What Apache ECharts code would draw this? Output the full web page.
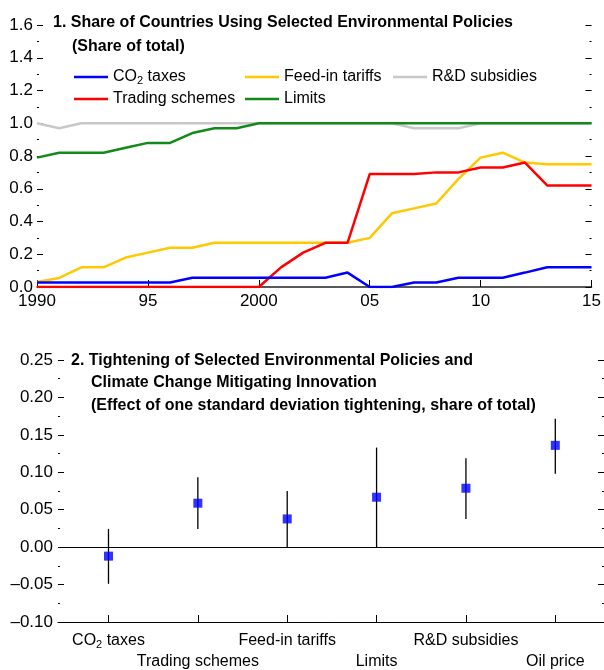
<!DOCTYPE html>
<html>
<head>
<meta charset="utf-8">
<script src="https://cdn.jsdelivr.net/npm/echarts@6/dist/echarts.min.js"></script>
<style>
  html, body { margin: 0; padding: 0; background: #fff; }
  #chart { width: 604px; height: 670px; }
</style>
</head>
<body>
<div id="chart"></div>
<script>
// Panel 1: share of countries using each policy, 1990–2015
const years = [1990, 1991, 1992, 1993, 1994, 1995, 1996, 1997, 1998, 1999, 2000, 2001, 2002,
               2003, 2004, 2005, 2006, 2007, 2008, 2009, 2010, 2011, 2012, 2013, 2014, 2015];
const co2Taxes = [0.027, 0.027, 0.027, 0.027, 0.027, 0.027, 0.027, 0.057, 0.057, 0.057, 0.057, 0.057, 0.057,
                  0.057, 0.088, 0.0, 0.0, 0.027, 0.027, 0.057, 0.057, 0.057, 0.088, 0.121, 0.121, 0.121];
const tradingSchemes = [0, 0, 0, 0, 0, 0, 0, 0, 0, 0, 0, 0.12, 0.21,
                        0.27, 0.27, 0.69, 0.69, 0.69, 0.70, 0.70, 0.73, 0.73, 0.76, 0.62, 0.62, 0.62];
const feedInTariffs = [0.03, 0.055, 0.12, 0.12, 0.18, 0.21, 0.24, 0.24, 0.27, 0.27, 0.27, 0.27, 0.27,
                       0.27, 0.27, 0.30, 0.45, 0.48, 0.51, 0.66, 0.79, 0.82, 0.76, 0.75, 0.75, 0.75];
const rdSubsidies = [1.0, 0.97, 1.0, 1.0, 1.0, 1.0, 1.0, 1.0, 1.0, 1.0, 1.0, 1.0, 1.0,
                     1.0, 1.0, 1.0, 1.0, 0.97, 0.97, 0.97, 1.0, 1.0, 1.0, 1.0, 1.0, 1.0];
const limits = [0.79, 0.82, 0.82, 0.82, 0.85, 0.88, 0.88, 0.94, 0.97, 0.97, 1.0, 1.0, 1.0,
                1.0, 1.0, 1.0, 1.0, 1.0, 1.0, 1.0, 1.0, 1.0, 1.0, 1.0, 1.0, 1.0];

// Panel 2: effect of one standard deviation tightening, with confidence bands
const policies = ['CO2 taxes', 'Trading schemes', 'Feed-in tariffs', 'Limits', 'R&D subsidies', 'Oil price'];
const effect = [-0.012, 0.0587, 0.0377, 0.0667, 0.0787, 0.136];
const bandLow = [-0.049, 0.0244, 0.0, 0.0, 0.0377, 0.098];
const bandHigh = [0.0244, 0.0933, 0.075, 0.133, 0.1187, 0.1715];

const FONT = "'Liberation Sans', Arial, sans-serif";
const BLACK = '#000';

const chart = echarts.init(document.getElementById('chart'), null, { renderer: 'canvas' });

const pair = arr => years.map((y, i) => [y, arr[i]]);
const policyIdx = policies.map((p, i) => i);
const evenIdx = policyIdx.filter(i => i % 2 === 0);
const oddIdx = policyIdx.filter(i => i % 2 === 1);

const subRich = {
  n: { fontFamily: FONT, fontSize: 16, color: BLACK, lineHeight: 18 },
  s: { fontFamily: FONT, fontSize: 11, color: BLACK, lineHeight: 11, verticalAlign: 'bottom' }
};
const withSub = name => name.indexOf('CO2') === 0 ? '{n|CO}{s|2}{n|' + name.slice(3) + '}' : '{n|' + name + '}';

function legendAt(left, names) {
  return {
    orient: 'vertical', left: left, top: 68, padding: 0,
    data: names, selectedMode: false,
    icon: 'rect', itemWidth: 34, itemHeight: 2.5, itemGap: 4,
    textStyle: { fontFamily: FONT, fontSize: 16, color: BLACK, lineHeight: 18, rich: subRich },
    formatter: withSub
  };
}

function lineSeries(name, data, color, z) {
  return {
    name: name, type: 'line', xAxisIndex: 0, yAxisIndex: 0,
    data: pair(data), showSymbol: false, symbol: 'none', z: z,
    lineStyle: { color: color, width: 2.5 }, itemStyle: { color: color }
  };
}

// Bold, slightly condensed heading line
function heading(x, y, text) {
  return {
    type: 'text', x: x, y: y, scaleX: 0.94,
    style: { text: text, fontFamily: FONT, fontSize: 17, fontWeight: 'bold', fill: BLACK, verticalAlign: 'middle' }
  };
}

// Policy name axis for panel 2 (two staggered label rows)
function policyAxis(labelIdx, margin, withLine) {
  return {
    gridIndex: 1, type: 'value', min: -0.565, max: 5.545, position: 'bottom',
    axisLine: { show: withLine, onZero: false, lineStyle: { color: BLACK, width: 1 } },
    axisTick: { show: withLine, inside: true, length: 7, customValues: policyIdx, lineStyle: { color: BLACK, width: 1 } },
    splitLine: { show: false },
    axisLabel: {
      customValues: labelIdx, margin: margin,
      showMinLabel: true, showMaxLabel: true,
      fontFamily: FONT, fontSize: 16, color: BLACK, rich: subRich,
      formatter: v => withSub(policies[Math.round(v)])
    }
  };
}

const yTickBase = {
  axisLine: { show: false, onZero: false },
  axisTick: { show: true, inside: true, length: 6, lineStyle: { color: BLACK, width: 1 } },
  minorTick: { show: true, splitNumber: 2, length: 2, lineStyle: { color: BLACK, width: 1 } },
  splitLine: { show: false }
};

const option = {
  animation: false,
  backgroundColor: '#fff',
  textStyle: { fontFamily: FONT },
  graphic: [
    heading(53, 22, '1. Share of Countries Using Selected Environmental Policies'),
    heading(72, 46, '(Share of total)'),
    heading(71, 360, '2. Tightening of Selected Environmental Policies and'),
    heading(91, 382.5, 'Climate Change Mitigating Innovation'),
    heading(91, 405, '(Effect of one standard deviation tightening, share of total)')
  ],
  legend: [
    legendAt(74, ['CO2 taxes', 'Trading schemes']),
    legendAt(245, ['Feed-in tariffs', 'Limits']),
    legendAt(393, ['R&D subsidies'])
  ],
  grid: [
    { left: 37, right: 9, top: 25, bottom: 383, containLabel: false },
    { left: 58, right: 0, top: 360, bottom: 47, containLabel: false }
  ],
  xAxis: [
    {
      gridIndex: 0, type: 'value', min: 1990, max: 2015, interval: 5,
      axisLine: { show: true, onZero: false, lineStyle: { color: '#222', width: 1.5 } },
      axisTick: { show: true, inside: true, length: 7, lineStyle: { color: BLACK, width: 1 } },
      splitLine: { show: false },
      axisLabel: {
        fontFamily: FONT, fontSize: 17, color: BLACK, margin: 6,
        formatter: v => (v === 1990 || v === 2000) ? String(v) : String(v % 100).padStart(2, '0')
      }
    },
    policyAxis(evenIdx, 10, true),
    policyAxis(oddIdx, 31, false)
  ],
  yAxis: [
    Object.assign({}, yTickBase, {
      gridIndex: 0, type: 'value', min: 0, max: 1.6, interval: 0.2, position: 'left',
      axisLabel: { fontFamily: FONT, fontSize: 17, color: BLACK, margin: 4, formatter: v => v.toFixed(1) }
    }),
    Object.assign({}, yTickBase, {
      gridIndex: 0, type: 'value', min: 0, max: 1.6, interval: 0.2, position: 'right',
      axisLabel: { show: false }
    }),
    Object.assign({}, yTickBase, {
      gridIndex: 1, type: 'value', min: -0.1, max: 0.25, interval: 0.05, position: 'left',
      axisLabel: {
        fontFamily: FONT, fontSize: 17, color: BLACK, margin: 5,
        formatter: v => {
          const s = (Math.abs(v) < 1e-9 ? 0 : v).toFixed(2);
          return s.replace('-', '\u2013');
        }
      }
    }),
    Object.assign({}, yTickBase, {
      gridIndex: 1, type: 'value', min: -0.1, max: 0.25, interval: 0.05, position: 'right',
      axisLabel: { show: false }
    })
  ],
  series: [
    lineSeries('R&D subsidies', rdSubsidies, '#c8c8c8', 2),
    lineSeries('Limits', limits, '#118a1a', 3),
    lineSeries('Feed-in tariffs', feedInTariffs, '#ffc800', 4),
    lineSeries('Trading schemes', tradingSchemes, '#ff0000', 5),
    lineSeries('CO2 taxes', co2Taxes, '#0000ff', 6),
    {
      type: 'custom', xAxisIndex: 1, yAxisIndex: 2, z: 3,
      data: policies.map((p, i) => [i, bandLow[i], bandHigh[i]]),
      renderItem: (params, api) => {
        const a = api.coord([api.value(0), api.value(1)]);
        const b = api.coord([api.value(0), api.value(2)]);
        return {
          type: 'line',
          shape: { x1: a[0], y1: a[1], x2: b[0], y2: b[1] },
          style: { stroke: BLACK, lineWidth: 1.3 }
        };
      }
    },
    {
      type: 'scatter', xAxisIndex: 1, yAxisIndex: 2, z: 5,
      symbol: 'rect', symbolSize: 9,
      itemStyle: { color: '#0000ff' },
      data: policies.map((p, i) => [i, effect[i]]),
      markLine: {
        silent: true, symbol: 'none', label: { show: false },
        lineStyle: { color: BLACK, width: 1, type: 'solid' },
        data: [{ yAxis: 0 }]
      }
    }
  ]
};

chart.setOption(option);
</script>
</body>
</html>
